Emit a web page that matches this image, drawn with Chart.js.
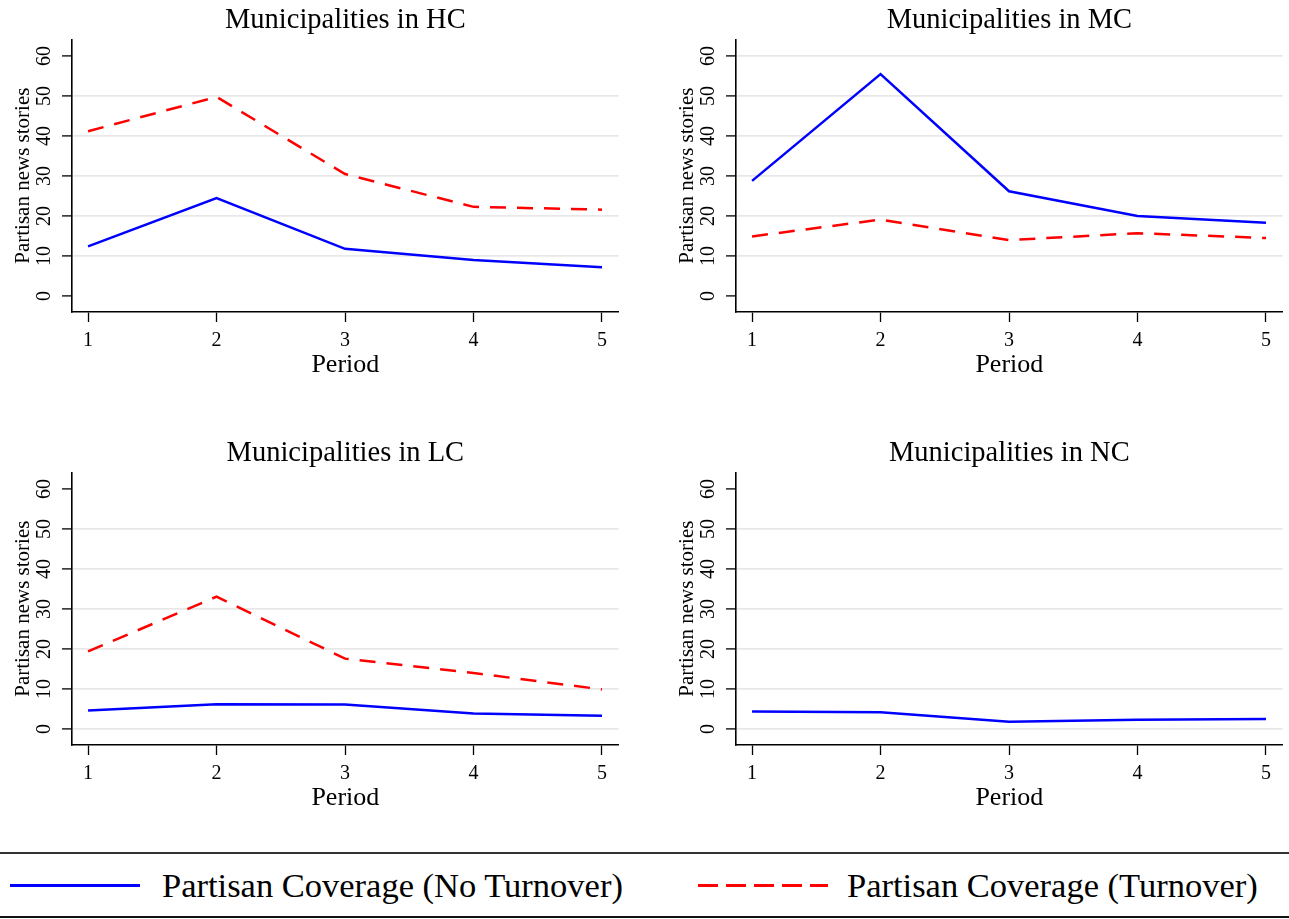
<!DOCTYPE html>
<html>
<head>
<meta charset="utf-8">
<script src="https://cdn.jsdelivr.net/npm/chart.js@4.4.0/dist/chart.umd.min.js"></script>
<style>
  body { margin: 0; background: #fff; width: 1289px; height: 919px; position: relative; overflow: hidden; font-family: "Liberation Serif", "Times New Roman", serif; }
  .panel { position: absolute; width: 625px; height: 400px; }
  .legend { position: absolute; left: 0; top: 852px; width: 1289px; height: 62px; border-top: 2px solid #333; border-bottom: 2px solid #111; }
  .item { position: absolute; top: 0; height: 62px; display: flex; align-items: center; font-size: 34.5px; color: #000; }
  .solid { width: 130px; height: 0; border-top: 3px solid #0000ff; margin-right: 22px; }
  .dash { width: 130px; height: 3px; margin-right: 19px; background: repeating-linear-gradient(to right, #ff0000 0 20px, transparent 20px 28px); }
</style>
</head>
<body>
<div class="panel" style="left:0;top:0"><canvas id="hc" width="625" height="400"></canvas></div>
<div class="panel" style="left:664px;top:0"><canvas id="mc" width="625" height="400"></canvas></div>
<div class="panel" style="left:0;top:433px"><canvas id="lc" width="625" height="400"></canvas></div>
<div class="panel" style="left:664px;top:433px"><canvas id="nc" width="625" height="400"></canvas></div>
<div class="legend">
  <div class="item" style="left:10px"><div class="solid"></div>Partisan Coverage (No Turnover)</div>
  <div class="item" style="left:698px"><div class="dash"></div>Partisan Coverage (Turnover)</div>
</div>
<script>
const periods = [1, 2, 3, 4, 5];
const yTicks = [0, 10, 20, 30, 40, 50, 60];

const hcNoTurnover = [12.4, 24.5, 11.8, 9.0, 7.2];
const hcTurnover = [41.2, 49.8, 30.5, 22.3, 21.6];
const mcNoTurnover = [28.8, 55.5, 26.2, 20.0, 18.3];
const mcTurnover = [14.9, 19.1, 14.0, 15.7, 14.5];
const lcNoTurnover = [4.6, 6.2, 6.1, 3.9, 3.3];
const lcTurnover = [19.4, 33.1, 17.6, 14.0, 9.9];
const ncNoTurnover = [4.4, 4.2, 1.8, 2.3, 2.5];
const ncTurnover = [];

// which horizontal grid lines show in each panel
const hcGrid = [10, 20, 30, 40, 50];
const mcGrid = [10, 20, 30, 40, 50, 60];
const lcGrid = [0, 10, 20, 30, 40, 50];
const ncGrid = [0, 10, 20, 30, 40, 50];

const serif = "'Liberation Serif', 'Times New Roman', serif";

function toPoints(arr) {
  return arr.map((v, i) => ({ x: periods[i], y: v }));
}

function makePanel(id, title, noTurn, turn, grid) {
  new Chart(document.getElementById(id), {
    type: "line",
    data: {
      datasets: [
        {
          label: "Partisan Coverage (No Turnover)",
          data: toPoints(noTurn),
          borderColor: "#0000ff",
          borderWidth: 2.5,
          pointRadius: 0,
          tension: 0,
        },
        {
          label: "Partisan Coverage (Turnover)",
          data: toPoints(turn),
          borderColor: "#ff0000",
          borderWidth: 2.5,
          borderDash: [16, 11],
          pointRadius: 0,
          tension: 0,
        },
      ],
    },
    options: {
      responsive: false,
      animation: false,
      devicePixelRatio: 1,
      layout: { padding: { left: 0, right: 6.3, top: 0, bottom: 0 } },
      plugins: {
        legend: { display: false },
        tooltip: { enabled: false },
        title: {
          display: true,
          text: title,
          fullSize: false,
          color: "#000",
          font: { family: serif, size: 28.5, weight: "normal", lineHeight: 1.2 },
          padding: { top: 3, bottom: 2.1 },
        },
      },
      scales: {
        x: {
          type: "linear",
          min: 0.875,
          max: 5.13,
          afterBuildTicks: (axis) => {
            axis.ticks = periods.map((v) => ({ value: v }));
          },
          afterFit: (axis) => {
            axis.height = 88;
          },
          grid: { color: "rgba(0,0,0,0)", tickColor: "#000", tickWidth: 1.3, tickLength: 10, drawOnChartArea: false },
          border: { display: true, color: "#000", width: 1.6 },
          ticks: { color: "#000", padding: 7, font: { family: serif, size: 20 }, maxRotation: 0 },
          title: {
            display: true,
            text: "Period",
            color: "#000",
            font: { family: serif, size: 26, lineHeight: 1.2 },
            padding: { top: 0, bottom: 19 },
          },
        },
        y: {
          min: -4,
          max: 64.2,
          afterBuildTicks: (axis) => {
            axis.ticks = yTicks.map((v) => ({ value: v }));
          },
          afterFit: (axis) => {
            axis.width = 72;
          },
          grid: {
            color: (ctx) => (grid.includes(ctx.tick && ctx.tick.value) ? "#e8e8e8" : "rgba(0,0,0,0)"),
            lineWidth: 1.8,
            tickColor: "#000",
            tickWidth: 1.3,
            tickLength: 10,
          },
          border: { display: true, color: "#000", width: 1.6 },
          ticks: {
            color: "#000",
            padding: 7,
            minRotation: 90,
            maxRotation: 90,
            crossAlign: "center",
            font: { family: serif, size: 20 },
          },
          title: {
            display: true,
            text: "Partisan news stories",
            color: "#000",
            font: { family: serif, size: 21, lineHeight: 1.2 },
            padding: { top: 10.4, bottom: 0 },
          },
        },
      },
    },
  });
}

makePanel("hc", "Municipalities in HC", hcNoTurnover, hcTurnover, hcGrid);
makePanel("mc", "Municipalities in MC", mcNoTurnover, mcTurnover, mcGrid);
makePanel("lc", "Municipalities in LC", lcNoTurnover, lcTurnover, lcGrid);
makePanel("nc", "Municipalities in NC", ncNoTurnover, ncTurnover, ncGrid);
</script>
</body>
</html>
